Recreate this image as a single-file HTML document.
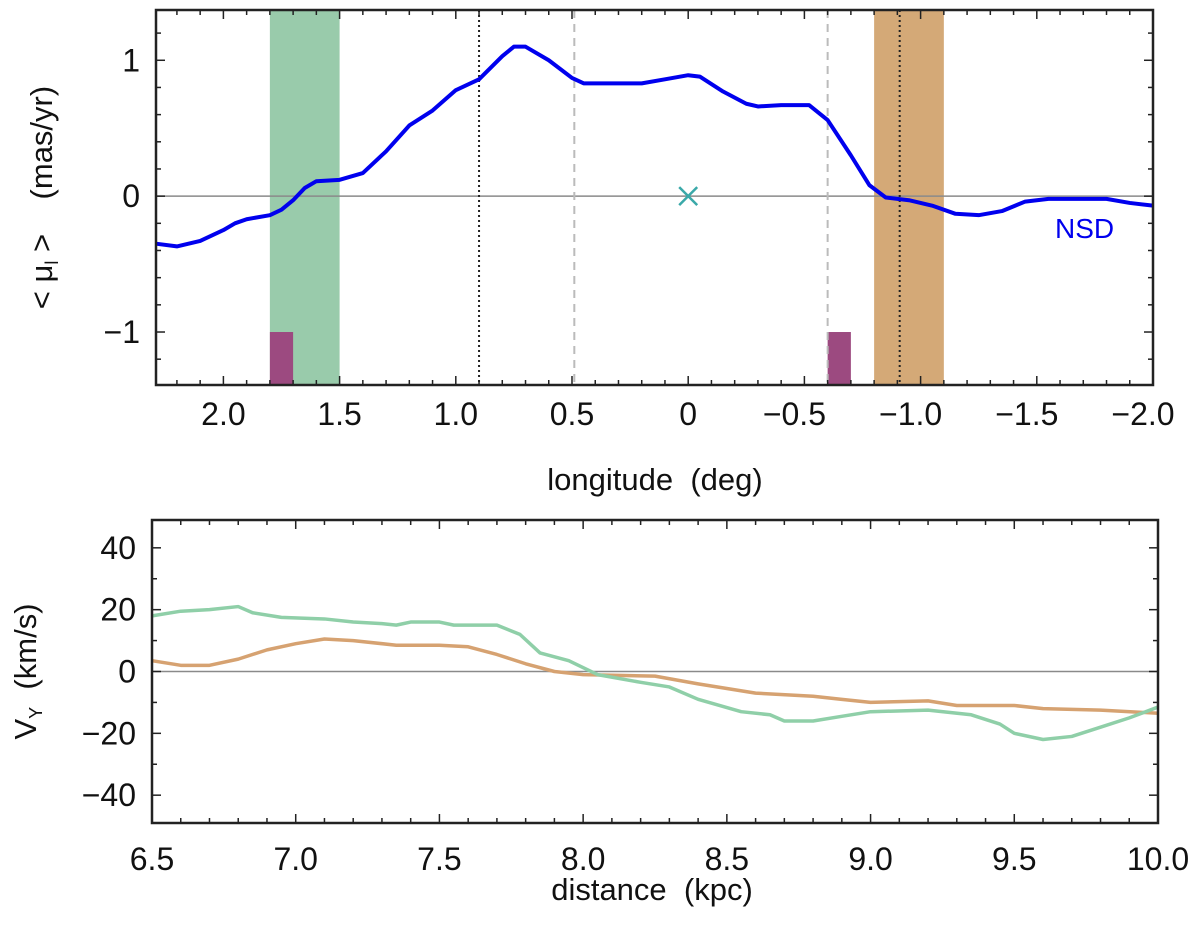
<!DOCTYPE html>
<html><head><meta charset="utf-8"><style>
html,body{margin:0;padding:0;background:#fff;}
svg{display:block;font-family:"Liberation Sans","DejaVu Sans",sans-serif;}
</style></head><body>
<svg id="fig" width="1200" height="925" viewBox="0 0 1200 925"></svg>
<script>
// ---- top panel data ----
const topLon = [2.29,2.2,2.1,2.0,1.95,1.9,1.8,1.75,1.7,1.65,1.6,1.5,1.4,1.3,1.2,1.1,1.0,0.9,0.8,0.75,0.7,0.6,0.5,0.45,0.3,0.2,0.1,0.0,-0.05,-0.15,-0.25,-0.3,-0.4,-0.52,-0.6,-0.7,-0.78,-0.85,-0.95,-1.05,-1.15,-1.25,-1.35,-1.45,-1.55,-1.65,-1.8,-1.9,-2.0];
const topMu = [-0.35,-0.37,-0.33,-0.25,-0.20,-0.17,-0.14,-0.10,-0.03,0.06,0.11,0.12,0.17,0.33,0.52,0.63,0.78,0.86,1.03,1.10,1.10,1.00,0.87,0.83,0.83,0.83,0.86,0.89,0.88,0.77,0.68,0.66,0.67,0.67,0.56,0.30,0.08,-0.01,-0.03,-0.07,-0.13,-0.14,-0.11,-0.04,-0.02,-0.02,-0.02,-0.05,-0.07];
const topXTicks = [2.0,1.5,1.0,0.5,0,-0.5,-1.0,-1.5,-2.0];
const topXTickLabels = ["2.0","1.5","1.0","0.5","0","\u22120.5","\u22121.0","\u22121.5","\u22122.0"];
const topYTicks = [1,0,-1];
const topYTickLabels = ["1","0","\u22121"];
const bandGreen = [1.8,1.5];
const bandTan = [-0.8,-1.1];
const purpleBars = [[1.8,1.7],[-0.6,-0.7]];
const dottedLines = [0.9,-0.91];
const dashedLines = [0.49,-0.6];
// ---- bottom panel data ----
const distG = [6.5,6.6,6.7,6.8,6.85,6.95,7.1,7.2,7.3,7.35,7.4,7.5,7.55,7.7,7.78,7.85,7.95,8.05,8.2,8.3,8.4,8.55,8.65,8.7,8.8,8.9,9.0,9.2,9.35,9.45,9.5,9.6,9.7,9.8,9.9,10.0];
const velG = [18,19.5,20,21,19,17.5,17,16,15.5,15,16,16,15,15,12,6,3.5,-1,-3.5,-5,-9,-13,-14,-16,-16,-14.5,-13,-12.5,-14,-17,-20,-22,-21,-18,-15,-11.5];
const distT = [6.5,6.6,6.7,6.8,6.9,7.0,7.1,7.2,7.35,7.5,7.6,7.7,7.8,7.9,8.0,8.25,8.4,8.5,8.6,8.8,8.9,9.0,9.2,9.3,9.5,9.6,9.8,10.0];
const velT = [3.5,2,2,4,7,9,10.5,10,8.5,8.5,8,5.5,2.5,0,-1,-1.5,-4,-5.5,-7,-8,-9,-10,-9.5,-11,-11,-12,-12.5,-13.5];
const botXTicks = [6.5,7.0,7.5,8.0,8.5,9.0,9.5,10.0];
const botXTickLabels = ["6.5","7.0","7.5","8.0","8.5","9.0","9.5","10.0"];
const botYTicks = [40,20,0,-20,-40];
const botYTickLabels = ["40","20","0","\u221220","\u221240"];

const NS='http://www.w3.org/2000/svg';
const svg=document.getElementById('fig');
function mk(tag,attrs,parent){const e=document.createElementNS(NS,tag);for(const k in attrs)e.setAttribute(k,attrs[k]);(parent||svg).appendChild(e);return e;}

// top axes
const T={x0:156,x1:1153,y0:10,y1:385,lmin:2.29,lmax:-2.0,vmin:-1.39,vmax:1.37};
const tx=l=>T.x0+(l-T.lmin)/(T.lmax-T.lmin)*(T.x1-T.x0);
const ty=v=>T.y1-(v-T.vmin)/(T.vmax-T.vmin)*(T.y1-T.y0);
const gT=mk('g',{});


let r=mk('rect',{x:tx(bandGreen[0]),y:T.y0,width:tx(bandGreen[1])-tx(bandGreen[0]),height:T.y1-T.y0,fill:'#99cbab'},gT);


r=mk('rect',{x:tx(bandTan[0]),y:T.y0,width:tx(bandTan[1])-tx(bandTan[0]),height:T.y1-T.y0,fill:'#d4a977'},gT);


purpleBars.forEach(b=>{const e=mk('rect',{x:tx(b[0]),y:ty(-1),width:tx(b[1])-tx(b[0]),height:T.y1-ty(-1),fill:'#9c4a80'},gT);

});
let z=mk('line',{x1:T.x0,x2:T.x1,y1:ty(0),y2:ty(0),stroke:'#8a8a8a','stroke-width':1.5},gT);


dottedLines.forEach(l=>{const e=mk('line',{x1:tx(l),x2:tx(l),y1:T.y0,y2:T.y1,stroke:'#222','stroke-width':2,'stroke-dasharray':'2,3'},gT);

});
dashedLines.forEach(l=>{const e=mk('line',{x1:tx(l),x2:tx(l),y1:T.y0,y2:T.y1,stroke:'#bbb','stroke-width':2,'stroke-dasharray':'8,6'},gT);

});
let p=mk('polyline',{points:topLon.map((l,i)=>tx(l)+','+ty(topMu[i])).join(' '),fill:'none',stroke:'#0000ee','stroke-width':4,'stroke-linejoin':'round'},gT);


const cx=tx(0),cy=ty(0);
let xm=mk('path',{d:`M${cx-9},${cy-9}L${cx+9},${cy+9}M${cx-9},${cy+9}L${cx+9},${cy-9}`,stroke:'#3aa9a9','stroke-width':2.5,fill:'none'},gT);


let nl=mk('text',{x:1055,y:238,fill:'#0000ee','font-size':28},gT);nl.textContent='NSD';


// top ticks
for(let i=-20;i<=22;i++){const l=i/10;const x=tx(l);const maj=topXTicks.some(t=>Math.abs(t-l)<1e-6);const h=maj?9:5;
mk('line',{x1:x,x2:x,y1:T.y1,y2:T.y1-h,stroke:'#222','stroke-width':1.5},gT);mk('line',{x1:x,x2:x,y1:T.y0,y2:T.y0+h,stroke:'#222','stroke-width':1.5},gT);}
for(let i=-6;i<=6;i++){const v=i/5;const y=ty(v);const maj=(i%5===0);const h=maj?9:5;
mk('line',{x1:T.x0,x2:T.x0+h,y1:y,y2:y,stroke:'#222','stroke-width':1.5},gT);mk('line',{x1:T.x1,x2:T.x1-h,y1:y,y2:y,stroke:'#222','stroke-width':1.5},gT);}
topXTicks.forEach((t,i)=>{const e=mk('text',{x:tx(t)+(t<0?-10:0),y:425,'text-anchor':'middle','font-size':32,fill:'#111'},gT);e.textContent=topXTickLabels[i];

});
topYTicks.forEach((t,i)=>{const e=mk('text',{x:140,y:ty(t)+11,'text-anchor':'end','font-size':32,fill:'#111'},gT);e.textContent=topYTickLabels[i];

});
let fr=mk('rect',{x:T.x0,y:T.y0,width:T.x1-T.x0,height:T.y1-T.y0,fill:'none',stroke:'#222','stroke-width':2.5},gT);


let xl=mk('text',{x:655,y:490,'text-anchor':'middle','font-size':31,fill:'#111'},gT);xl.textContent='longitude\u00a0\u00a0(deg)';


let yl=mk('text',{x:0,y:0,'text-anchor':'middle','font-size':31,fill:'#111',transform:`translate(52,${(T.y0+T.y1)/2}) rotate(-90)`},gT);
yl.innerHTML='&lt; μ<tspan font-size="18" dy="6">l</tspan><tspan dy="-6"> &gt;\u00a0\u00a0\u00a0\u00a0(mas/yr)</tspan>';



// bottom axes
const B={x0:152,x1:1158,y0:520,y1:823,dmin:6.5,dmax:10.0,vmin:-49,vmax:49};
const bx=d=>B.x0+(d-B.dmin)/(B.dmax-B.dmin)*(B.x1-B.x0);
const by=v=>B.y1-(v-B.vmin)/(B.vmax-B.vmin)*(B.y1-B.y0);
const gB=mk('g',{});


z=mk('line',{x1:B.x0,x2:B.x1,y1:by(0),y2:by(0),stroke:'#8a8a8a','stroke-width':1.5},gB);


p=mk('polyline',{points:distT.map((d,i)=>bx(d)+','+by(velT[i])).join(' '),fill:'none',stroke:'#d6a271','stroke-width':3.5,'stroke-linejoin':'round'},gB);


p=mk('polyline',{points:distG.map((d,i)=>bx(d)+','+by(velG[i])).join(' '),fill:'none',stroke:'#8fcfa8','stroke-width':3.5,'stroke-linejoin':'round'},gB);


for(let i=65;i<=100;i++){const d=i/10;const x=bx(d);const maj=(i%5===0);const h=maj?9:5;
mk('line',{x1:x,x2:x,y1:B.y1,y2:B.y1-h,stroke:'#222','stroke-width':1.5},gB);mk('line',{x1:x,x2:x,y1:B.y0,y2:B.y0+h,stroke:'#222','stroke-width':1.5},gB);}
for(let v=-40;v<=40;v+=10){const y=by(v);const h=(v%20===0)?9:5;
mk('line',{x1:B.x0,x2:B.x0+h,y1:y,y2:y,stroke:'#222','stroke-width':1.5},gB);mk('line',{x1:B.x1,x2:B.x1-h,y1:y,y2:y,stroke:'#222','stroke-width':1.5},gB);}
botXTicks.forEach((t,i)=>{const e=mk('text',{x:bx(t),y:870,'text-anchor':'middle','font-size':32,fill:'#111'},gB);e.textContent=botXTickLabels[i];

});
botYTicks.forEach((t,i)=>{const e=mk('text',{x:136,y:by(t)+11,'text-anchor':'end','font-size':32,fill:'#111'},gB);e.textContent=botYTickLabels[i];

});
fr=mk('rect',{x:B.x0,y:B.y0,width:B.x1-B.x0,height:B.y1-B.y0,fill:'none',stroke:'#222','stroke-width':2.5},gB);


xl=mk('text',{x:652,y:900,'text-anchor':'middle','font-size':31,fill:'#111'},gB);xl.textContent='distance\u00a0\u00a0(kpc)';


yl=mk('text',{x:0,y:0,'text-anchor':'middle','font-size':31,fill:'#111',transform:`translate(36,${(B.y0+B.y1)/2}) rotate(-90)`},gB);
yl.innerHTML='V<tspan font-size="18" dy="6">Y</tspan><tspan dy="-6">\u00a0\u00a0(km/s)</tspan>';


</script>
</body></html>
